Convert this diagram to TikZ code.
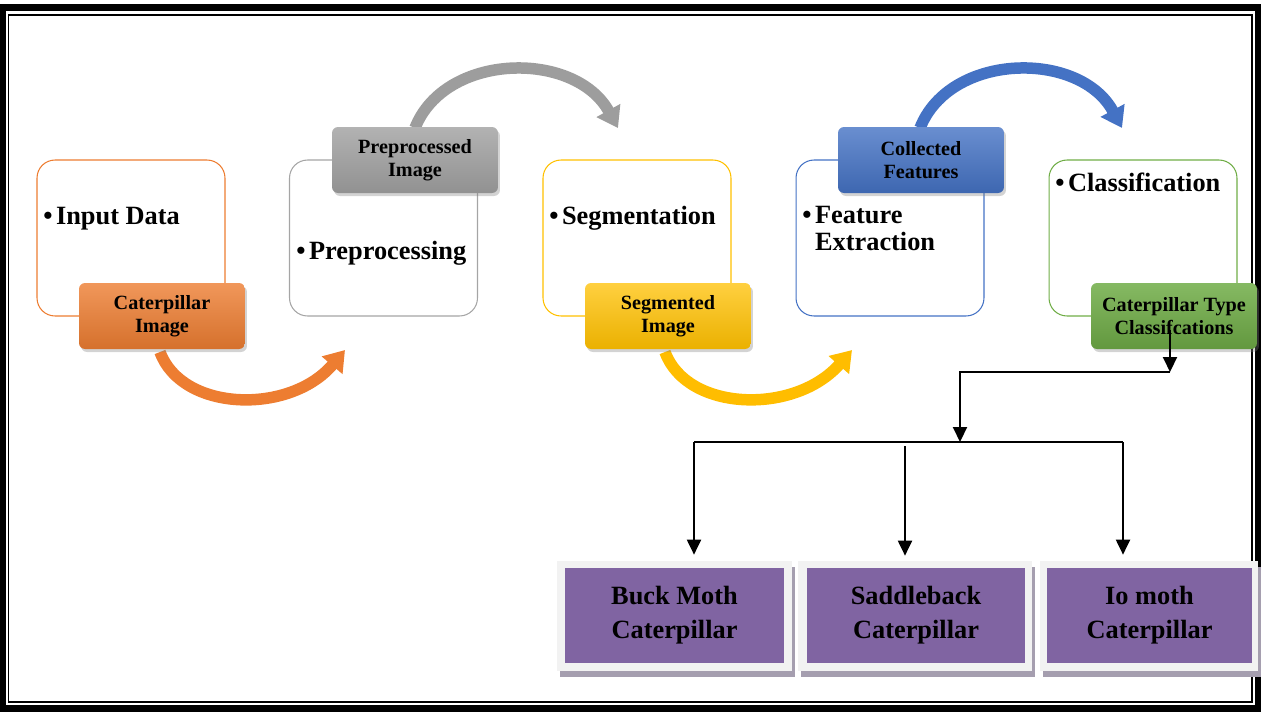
\documentclass[tikz,border=0pt]{standalone}
\usepackage{fontspec}
\setmainfont{Liberation Serif}
\usetikzlibrary{arrows.meta,shadows}
\definecolor{orangeln}{RGB}{237,125,49}
\definecolor{grayln}{RGB}{165,165,165}
\definecolor{goldln}{RGB}{255,192,0}
\definecolor{blueln}{RGB}{68,114,196}
\definecolor{greenln}{RGB}{112,173,71}
\definecolor{purplebox}{RGB}{128,100,162}
\definecolor{framegray}{RGB}{242,242,242}
\definecolor{shadegray}{RGB}{165,158,175}

\tikzset{
  stagebox/.style={draw=#1, line width=0.6pt, rounded corners=0.36cm, minimum width=3.76cm, minimum height=3.12cm},
  stagetxt/.style={anchor=west, inner sep=0pt, align=left, font=\fontsize{15}{15.3}\selectfont\bfseries},
  tagbox/.style={draw=none, rounded corners=0.12cm, minimum width=3.32cm, minimum height=1.32cm, align=center,
    font=\fontsize{11.5}{13}\selectfont\bfseries, drop shadow={shadow xshift=0.04cm, shadow yshift=-0.06cm, opacity=0.35}},
  bendarrow/.style={draw=#1, line width=0.23cm, -{Triangle[length=0.4cm, width=0.52cm]}},
  tline/.style={line width=0.04cm},
  tarrow/.style={tline, -{Triangle[length=0.3cm, width=0.28cm]}},
  classframe/.style={fill=framegray, inner sep=0pt, minimum height=2.2cm,
    drop shadow={shadow xshift=0.06cm, shadow yshift=-0.12cm, opacity=1, fill=shadegray}},
  classbox/.style={fill=purplebox, inner sep=0pt, minimum height=1.9cm, align=center,
    font=\fontsize{15}{19.5}\selectfont\bfseries}
}

\begin{document}
\begin{tikzpicture}[x=0.02cm, y=-0.02cm]
    \useasboundingbox (0,0) rectangle (1261,711);

    % outer double frame
    \draw[line width=0.14cm] (3,7.5) rectangle (1258,708);
    \draw[line width=0.04cm] (8.5,15) rectangle (1252,702);

    % stage boxes
    \node[stagebox=orangeln] (inp) at (131,238) {};
    \node[stagebox=grayln] (prep) at (383.5,238) {};
    \node[stagebox=goldln] (seg) at (637,238) {};
    \node[stagebox=blueln] (feat) at (890,238) {};
    \node[stagebox=greenln] (cls) at (1143,238) {};

    \node[stagetxt] (inptxt) at (43,219) {\textbullet\hspace{2pt}Input Data};
    \node[stagetxt] (preptxt) at (296,253) {\textbullet\hspace{2pt}Preprocessing};
    \node[stagetxt] (segtxt) at (549,218) {\textbullet\hspace{2pt}Segmentation};
    \node[stagetxt, anchor=north west] (feattxt) at (802,206) {\textbullet\hspace{2pt}Feature\\\phantom{\textbullet}\hspace{2pt}Extraction};
    \node[stagetxt] (clstxt) at (1055,182) {\textbullet\hspace{2pt}Classification};

    % bent arrows
    \draw[bendarrow=orangeln] (160,352) .. controls (182,412) and (290,415) .. (345,350);
    \draw[bendarrow=grayln!95!black] (415,128) .. controls (445,52) and (575,50) .. (618,128);
    \draw[bendarrow=goldln!95!orange] (665,352) .. controls (687,412) and (795,415) .. (852,350);
    \draw[bendarrow=blueln] (920,128) .. controls (950,52) and (1080,50) .. (1122,128);

    % tags
    \node[tagbox, top color=orangeln!80!white, bottom color=orangeln!90!black] (imgtag) at (162,316) {Caterpillar\\Image};
    \node[tagbox, top color=grayln!85!white, bottom color=grayln!88!black] (preptag) at (415,160) {Preprocessed\\Image};
    \node[tagbox, top color=goldln!75!white, bottom color=goldln!92!black] (segtag) at (668,316) {Segmented\\Image};
    \node[tagbox, top color=blueln!80!white, bottom color=blueln!90!black] (feattag) at (921,160) {Collected\\Features};
    \node[tagbox, top color=greenln!85!white, bottom color=greenln!88!black] (clstag) at (1174,316) {Caterpillar Type\\Classifcations};

    % caterpillar classes
    \node[classframe, minimum width=4.7cm] (buckfr) at (674.5,616) {};
    \node[classframe, minimum width=4.68cm] (saddlefr) at (915,616) {};
    \node[classframe, minimum width=4.36cm] (iofr) at (1149,616) {};
    \node[classbox, minimum width=4.38cm] (buck) at (674.5,615.5) {Buck Moth\\Caterpillar};
    \node[classbox, minimum width=4.36cm] (saddle) at (916,615.5) {Saddleback\\Caterpillar};
    \node[classbox, minimum width=4.1cm] (io) at (1149.5,615.5) {Io moth\\Caterpillar};

    % tree connectors
    \coordinate (c0) at (1170,330);
    \coordinate (j1) at (1170,372);
    \coordinate (j2) at (960,442);
    \coordinate (j3) at (694,442);
    \coordinate (j4) at (905,446);
    \coordinate (j5) at (1123,442);
    \draw[tarrow] (c0) -- (j1);
    \draw[tarrow] (j1) -| (j2);
    \draw[tline] (j3) -- (j5);
    \draw[tarrow, shorten >=0.12cm] (j3) -- (j3 |- buckfr.north);
    \draw[tarrow, shorten >=0.1cm] (j4) -- (j4 |- saddlefr.north);
    \draw[tarrow, shorten >=0.12cm] (j5) -- (j5 |- iofr.north);
\end{tikzpicture}
\end{document}
